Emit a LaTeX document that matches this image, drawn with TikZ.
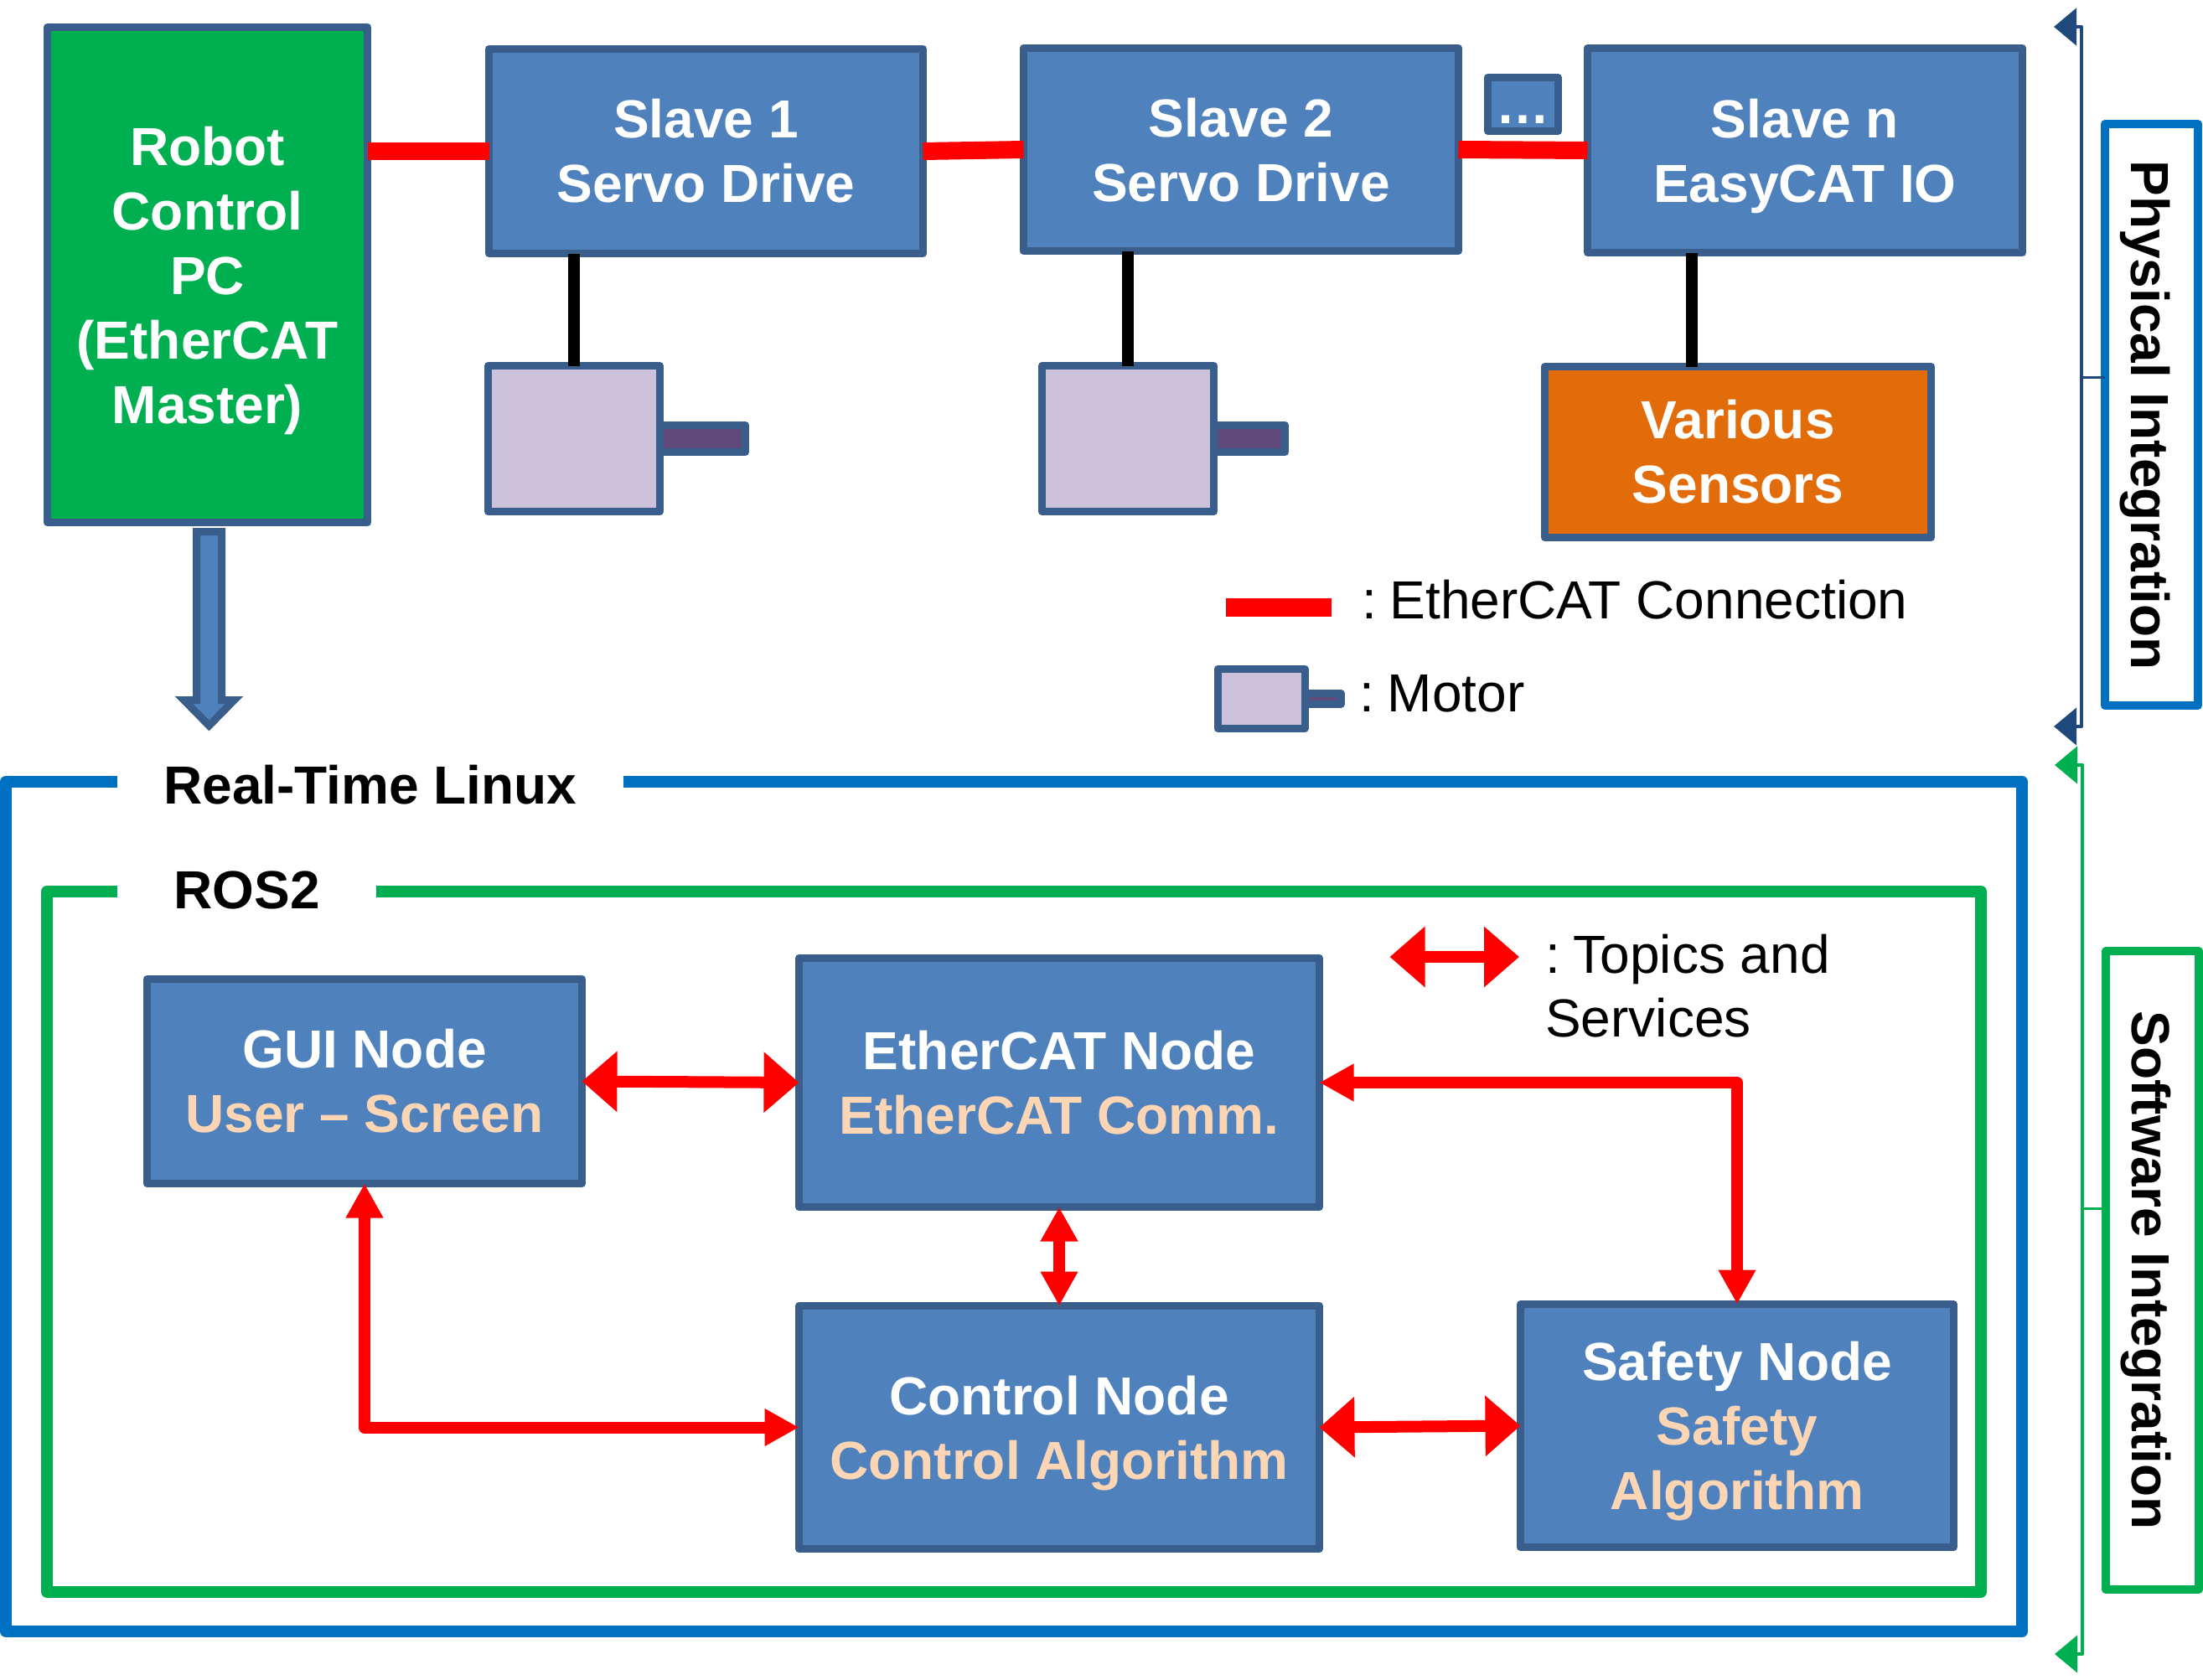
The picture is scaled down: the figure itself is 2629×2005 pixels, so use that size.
\documentclass[tikz,border=0pt]{standalone}
\usepackage{fontspec}
\setmainfont{Liberation Sans}
\usetikzlibrary{arrows.meta}
\definecolor{bd}{HTML}{3A5E8C}
\definecolor{bl}{HTML}{4F81BD}
\definecolor{mot}{HTML}{CCC1DA}
\definecolor{sha}{HTML}{604A7B}
\definecolor{peach}{HTML}{FCD5B5}
\definecolor{orng}{HTML}{E36C0A}
\definecolor{grn}{HTML}{00B050}
\definecolor{blu}{HTML}{0070C0}
\definecolor{navy}{HTML}{1F497D}
\newcommand{\lblbold}{\fontsize{64}{77}\selectfont\bfseries}
\newcommand{\lblreg}{\fontsize{64}{76}\selectfont}
\newcommand{\pch}[1]{\textcolor{peach}{#1}}
\newcommand{\colonsp}{:\kern-2pt\ }
\tikzset{
  headA/.tip={Triangle[length=42pt,width=70pt]},
  headB/.tip={Triangle[length=41pt,width=42pt]},
  headC/.tip={Triangle[length=27pt,width=44pt]},
  boxn/.style={draw=bd,fill=bl,line width=9pt,line join=round,inner sep=0pt,outer sep=0pt,align=center,text=white,font=\lblbold},
  motorbody/.style={boxn,fill=mot},
  motorshaft/.style={boxn,fill=sha},
  frame/.style={draw=#1,line width=14pt,line join=round,inner sep=0pt,outer sep=0pt},
  sidebox/.style={draw=#1,fill=white,line width=10pt,line join=round,inner sep=0pt,outer sep=0pt},
  sidetext/.style={rotate=-90,anchor=base,inner sep=0pt,font=\lblbold},
  title/.style={fill=white,inner sep=0pt,anchor=base,font=\lblbold},
  legtext/.style={inner sep=0pt,anchor=base west,font=\lblreg},
  ethlink/.style={draw=red,line width=21pt},
  wire/.style={draw=black,line width=14pt},
  ipc/.style={draw=red,line width=14pt,line join=round},
  brk/.style={draw=#1,line width=4.5pt,line join=round},
  tick/.style={draw=#1,line width=3pt},
}
\begin{document}
\begin{tikzpicture}[x=1pt,y=-1pt]
\useasboundingbox[fill=white] (0,0) rectangle (2629,2005);

% physical layer
\node[boxn,fill=grn,minimum width=382pt,minimum height=591pt] (robot) at (247.5,328) {Robot\\Control\\PC\\(EtherCAT\\\smash{Master)}};
\node[boxn,minimum width=518pt,minimum height=244pt] (s1) at (842.5,180.5) {Slave 1\\Servo Drive};
\node[boxn,minimum width=519pt,minimum height=242pt] (s2) at (1481,178.5) {\rule{0pt}{48.5pt}Slave 2\\Servo Drive};
\node[boxn,minimum width=519pt,minimum height=244pt] (sn) at (2154,179.5) {\rule{0pt}{47.5pt}Slave n\\\smash{EasyCAT IO}};
\node[boxn,minimum width=84pt,minimum height=64pt] (dots) at (1817.5,124.5) {};
\node[anchor=base,inner sep=0pt,text=white,font=\lblbold] (dotstxt) at (1817.5,147.5) {…};

\node[motorshaft,minimum width=102pt,minimum height=32pt] (m1s) at (838.5,523.5) {};
\node[motorbody,minimum width=205pt,minimum height=174pt] (m1) at (685,523.5) {};
\node[motorshaft,minimum width=85pt,minimum height=32pt] (m2s) at (1491,523.5) {};
\node[motorbody,minimum width=205pt,minimum height=174pt] (m2) at (1346,523.5) {};
\node[boxn,fill=orng,minimum width=461pt,minimum height=204pt] (sens) at (2074,539.5) {Various\\Sensors};

\draw[ethlink] (robot.east |- s1.west) -- (s1.west);
\draw[ethlink] (s1.east) -- (s2.west);
\draw[ethlink] (s2.east) -- (sn.west);
\draw[wire] (s1.south -| m1.north) -- (m1.north);
\draw[wire] (s2.south -| m2.north) -- (m2.north);
\coordinate (sntap) at (2019,400);
\draw[wire] (sn.south -| sntap) -- (sens.north -| sntap);

% thick arrow Robot -> Linux
\draw[draw=bd,fill=bl,line width=9pt,miter limit=10] (234.5,634.5) -- (264.5,634.5) -- (264.5,835.5) -- (279.5,835.5) -- (249.5,866) -- (219.5,835.5) -- (234.5,835.5) -- cycle;

% legend
\coordinate (lga) at (1463,725);
\coordinate (lgb) at (1589,725);
\draw[draw=red,line width=22pt] (lga) -- (lgb);
\node[legtext] (lgt1) at (1625,738) {\colonsp EtherCAT Connection};
\node[motorshaft,minimum width=43pt,minimum height=13pt] (lgs) at (1578.5,834) {};
\node[motorbody,minimum width=104pt,minimum height=71pt] (lgm) at (1505,834) {};
\node[legtext] (lgt2) at (1622,849.5) {\colonsp Motor};

% frames
\node[frame=blu,minimum width=2406pt,minimum height=1014pt] (rtl) at (1210,1440) {};
\node[frame=grn,minimum width=2308pt,minimum height=835.5pt] (ros) at (1210,1481.75) {};
\node[title,minimum width=604pt,minimum height=70pt] (rtlt) at (442,959) {Real-Time Linux};
\node[title,minimum width=309pt,minimum height=70pt] (rost) at (294.5,1084) {ROS2};

% software nodes
\node[boxn,minimum width=519pt,minimum height=244pt] (gui) at (435,1290.5) {GUI Node\\\pch{User – Screen}};
\node[boxn,minimum width=621pt,minimum height=297pt] (ec) at (1264,1292) {EtherCAT Node\\\pch{EtherCAT Comm.}};
\node[boxn,minimum width=621pt,minimum height=290pt] (ctl) at (1264,1703.5) {Control Node\\\pch{\smash{Control Algorithm}}};
\node[boxn,minimum width=517pt,minimum height=290pt] (saf) at (2073,1701.5) {Safety Node\\\pch{Safety}\\\pch{\smash{Algorithm}}};

\draw[ipc,{headA}-{headA}] (gui.east) -- (ec.west);
\draw[ipc,{headA}-{headA}] (ctl.east) -- (saf.west);
\draw[ipc,{headB}-{headB}] (ec.south) -- (ctl.north);
\draw[ipc,{headB}-{headB}] (ec.east) -| (saf.north);
\draw[ipc,{headB}-{headB}] (gui.south) |- (ctl.west);

% topics legend
\coordinate (tpa) at (1658.5,1142);
\coordinate (tpb) at (1813,1142);
\draw[ipc,{headA}-{headA}] (tpa) -- (tpb);
\node[inner sep=0pt,anchor=south west,align=left,font=\lblreg] (tpt) at (1844,1238.5) {\colonsp Topics and\\Services};

% side labels
\coordinate (pa) at (2451,32);
\coordinate (pb) at (2484,32);
\coordinate (pc) at (2484,867);
\coordinate (pd) at (2451,867);
\coordinate (ptick) at (2484,450);
\node[sidebox=blu,minimum width=111pt,minimum height=694pt] (phy) at (2567.5,495) {};
\draw[tick=navy] (ptick) -- (phy.west |- ptick);
\draw[brk=navy,{headC}-{headC}] (pa) -- (pb) -- (pc) -- (pd);
\node[sidetext] (phyt) at (2543,495.5) {Physical Integration};

\coordinate (qa) at (2452,913);
\coordinate (qb) at (2485,913);
\coordinate (qc) at (2485,1974);
\coordinate (qd) at (2452,1974);
\coordinate (qtick) at (2485,1442);
\node[sidebox=grn,minimum width=111pt,minimum height=762pt] (sof) at (2568.5,1516) {};
\draw[tick=grn] (qtick) -- (sof.west |- qtick);
\draw[brk=grn,{headC}-{headC}] (qa) -- (qb) -- (qc) -- (qd);
\node[sidetext] (soft) at (2544,1516) {Software Integration};
\end{tikzpicture}
\end{document}
